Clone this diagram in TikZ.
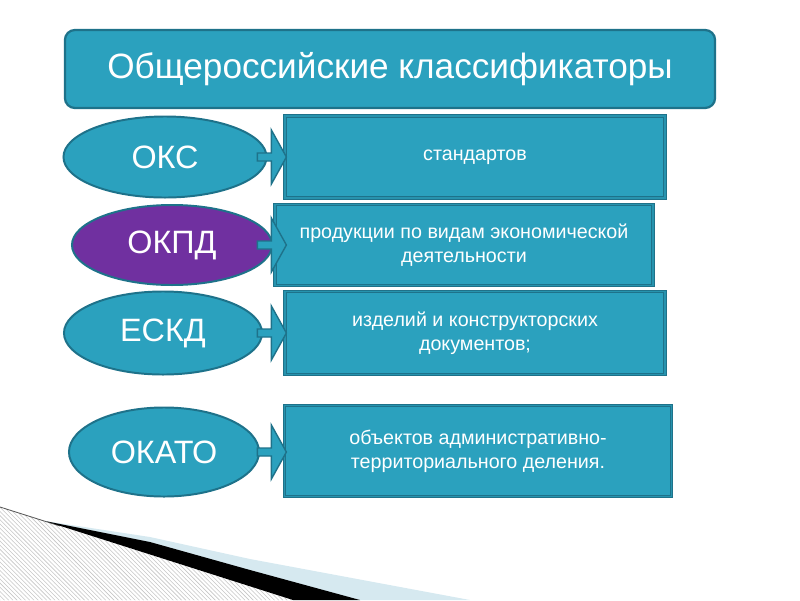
\documentclass[tikz,border=0pt]{standalone}
\usepackage{fontspec}
\setmainfont{Liberation Sans}
\usepackage{tikz}
\usetikzlibrary{shapes.geometric,calc,patterns}

\definecolor{slideteal}{RGB}{43,161,190}
\definecolor{tealedge}{RGB}{30,114,138}
\definecolor{okpdpurple}{RGB}{112,48,160}
\definecolor{curlblue}{RGB}{214,233,240}

\tikzset{
    titlebox/.style={draw=tealedge, line width=1.6pt, fill=slideteal, rounded corners=0.25cm,
        text=white, font=\fontsize{25}{29}\selectfont},
    codeoval/.style={ellipse, draw=tealedge, line width=1.4pt, fill=slideteal, inner sep=0pt,
        text=white, font=\fontsize{23}{27}\selectfont},
    namebox/.style={rectangle, draw=tealedge, line width=0.8pt, double=slideteal!70!tealedge,
        double distance=0.9pt, fill=slideteal, inner sep=0pt,
        align=center, text=white, font=\fontsize{14}{17}\selectfont},
    linkarrow/.style={draw=tealedge, line width=1pt, fill=slideteal, line join=miter}
}

\begin{document}
\begin{tikzpicture}[x=0.025cm, y=-0.025cm]
\useasboundingbox (0,0) rectangle (800,600);

% page curl in the corner
\fill[pattern=north west lines, pattern color=gray!45] (0,507) -- (293,600) -- (0,600) -- cycle;
\draw[gray!70!black, line width=0.6pt] (0,507) -- (60,526);
\fill[curlblue] (45,521) -- (150,537) -- (250,559) -- (470,600) -- (360,600) -- cycle;
\fill[black] (45,521) -- (150,542) -- (250,570) -- (360,600) -- (293,600) -- cycle;

\node[titlebox, minimum width=16.25cm, minimum height=1.95cm] (title) at (390,69) {Общероссийские классификаторы};

% classifiers
\node[codeoval, minimum width=5.075cm, minimum height=2.025cm] (oks) at (165,157) {ОКС};
\node[codeoval, fill=okpdpurple, minimum width=5cm, minimum height=2cm] (okpd) at (172,245) {ОКПД};
\node[codeoval, minimum width=4.95cm, minimum height=2.075cm] (eskd) at (163,333) {ЕСКД};
\node[codeoval, minimum width=4.75cm, minimum height=2.225cm] (okato) at (164,452) {ОКАТО};

\node[namebox, minimum width=9.5cm, minimum height=2.05cm] (oksbox) at (475,157) {стандартов};
\node[namebox, minimum width=9.45cm, minimum height=2.025cm] (okpdbox) at (464,245) {продукции по видам экономической\\деятельности};
\node[namebox, minimum width=9.5cm, minimum height=2.075cm] (eskdbox) at (475,333) {изделий и конструкторских\\документов;};
\node[namebox, minimum width=9.675cm, minimum height=2.275cm] (okatobox) at (478,451) {объектов административно-\\территориального деления.};

% block arrows, all tips on one line just past the first box
\coordinate (tipx) at ($(oksbox.west)+(2,0)$);
\foreach \from in {oks, okpd, eskd, okato} {
    \draw[linkarrow] ($(\from.center -| tipx)+(-29,-4)$) -- ++(14,0) -- ++(0,-23)
        -- (\from.center -| tipx) -- ($(\from.center -| tipx)+(-15,27)$)
        -- ++(0,-23) -- ++(-14,0) -- cycle;
}
\end{tikzpicture}
\end{document}
